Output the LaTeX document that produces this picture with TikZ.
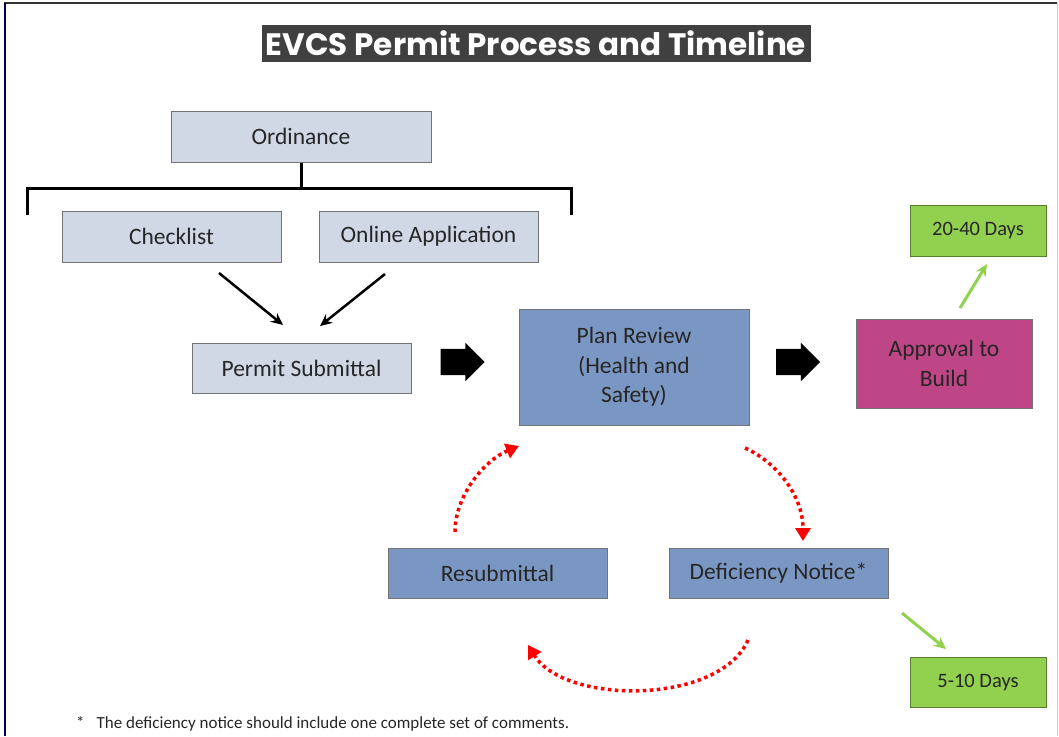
\documentclass[tikz,border=0pt]{standalone}
\usepackage{fontspec}
\setmainfont{Carlito}
\newfontfamily\titlefont{Poppins}
\usepackage{tikz}
\usetikzlibrary{arrows.meta,shapes.arrows}

\definecolor{paleblue}{HTML}{D0D8E6}
\definecolor{midblue}{HTML}{7A97C3}
\definecolor{approvalpink}{HTML}{BE4586}
\definecolor{daygreen}{HTML}{92D050}
\definecolor{titlegray}{HTML}{404040}

\begin{document}
\begin{tikzpicture}[x=1pt,y=-1pt,
    stage/.style={draw=gray!90!black, line width=1pt, fill=paleblue, inner sep=0pt,
        align=center, text=black!85, font=\fontsize{23.5}{29.5}\selectfont},
    review/.style={stage, fill=midblue},
    daysbox/.style={stage, fill=daygreen, draw=daygreen!60!black, font=\fontsize{20.5}{24}\selectfont},
    blockarrow/.style={single arrow, fill=black, inner sep=0pt, minimum height=44pt,
        single arrow head extend=6pt},
    feed/.style={line width=2.5pt, -{Stealth[length=12pt,width=11pt]}},
    greenfeed/.style={line width=3pt, daygreen, -{Stealth[length=12pt,width=11pt]}},
    loopback/.style={line width=3.5pt, red, dash pattern=on 3.5pt off 3.5pt,
        -{Triangle[length=13pt,width=15pt]}}]
    \useasboundingbox (0,0) rectangle (1059,736);
    % frame
    \draw[line width=2pt, gray!40!black] (4,3) -- (1057,3);
    \draw[line width=2.5pt, blue!30!black] (5,3) -- (5,736);
    \draw[line width=1pt, gray!40] (1057,3) -- (1057,736);

    \node[fill=titlegray, text=white, inner sep=1pt, minimum width=549pt, minimum height=37pt,
        font=\titlefont\bfseries\fontsize{31}{34}\selectfont] (title) at (536,43.5)
        {EVCS Permit Process and Timeline};

    % top part
    \node[stage, minimum width=260pt, minimum height=51pt] (ord) at (301,136.5) {Ordinance};
    \node[stage, minimum width=219pt, minimum height=51pt] (check) at (171.5,236.5) {Checklist};
    \node[stage, minimum width=219pt, minimum height=51pt] (online) at (428.5,236.5) {Online Application};
    \node[stage, minimum width=219pt, minimum height=50pt] (submit) at (301.5,368) {Permit Submittal};
    \coordinate (brace) at (301,188);
    \draw[line width=3pt] (ord.south) -- (brace);
    \draw[line width=3pt] (27,215) -- (27,188) -- (571,188) -- (571,215);

    \coordinate (checkout) at (219,273);
    \coordinate (onlineout) at (385,274);
    \draw[feed] (checkout) -- (283,325);
    \draw[feed] (onlineout) -- (320,326);

    % main line
    \node[review, minimum width=230pt, minimum height=116pt] (plan) at (634,367)
        {Plan Review\\(Health and\\Safety)};
    \node[stage, fill=approvalpink, minimum width=176pt, minimum height=89pt] (build) at (944,363.5)
        {Approval to\\Build};
    \node[blockarrow] (go1) at (456,362) {\rule{0pt}{26pt}};
    \node[blockarrow] (go2) at (791.5,362) {\rule{0pt}{26pt}};

    % timelines
    \node[daysbox, minimum width=136pt, minimum height=51pt] (long) at (978,230.5) {20-40 Days};
    \node[daysbox, minimum width=136pt, minimum height=50pt] (short) at (978,682) {5-10 Days};
    \coordinate (buildout) at (960,308);
    \coordinate (defout) at (902,613);
    \draw[greenfeed] (buildout) -- (987,264);
    \draw[greenfeed] (defout) -- (946,649);

    % review loop
    \node[review, minimum width=219pt, minimum height=50pt] (resub) at (497.5,573) {Resubmittal};
    \node[review, minimum width=219pt, minimum height=50pt] (defic) at (778.5,573) {Deficiency Notice*};
    \coordinate (up1) at (455,532);
    \coordinate (up2) at (519,446);
    \coordinate (dn1) at (745,448);
    \coordinate (dn2) at (803,541);
    \coordinate (bt1) at (748,640);
    \coordinate (bt2) at (528,645);
    \draw[loopback] (up1) .. controls (455,495) and (485,460) .. (up2);
    \draw[loopback] (dn1) .. controls (776,462) and (803,495) .. (dn2);
    \draw[loopback] (bt1) .. controls (720,705) and (565,705) .. (bt2);

    \node[anchor=west, inner sep=0pt, text=black!85, font=\fontsize{17}{20}\selectfont] (note) at (76,724)
        {*\hspace{12pt}The deficiency notice should include one complete set of comments.};
\end{tikzpicture}
\end{document}
